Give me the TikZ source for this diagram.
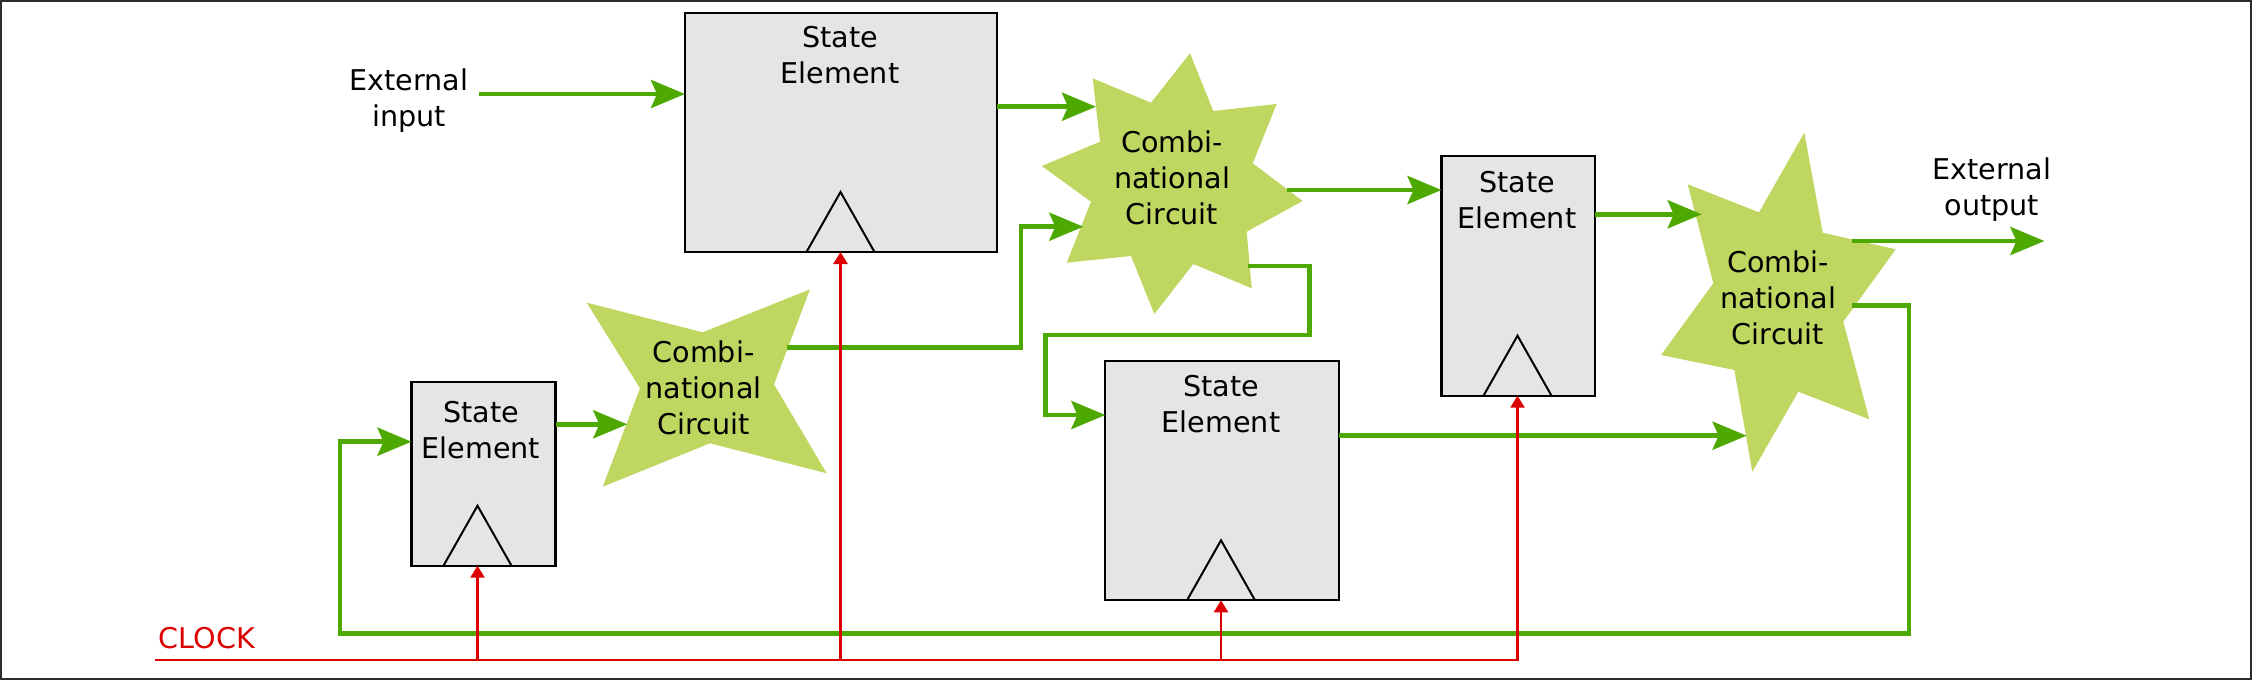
\documentclass[tikz,border=0pt]{standalone}
\usepackage{fontspec}
\setmainfont{DejaVu Sans}
\usetikzlibrary{arrows.meta,calc}
\definecolor{wire}{RGB}{77,168,0}
\definecolor{starfill}{RGB}{191,214,97}
\definecolor{boxfill}{RGB}{229,229,229}
\definecolor{clk}{RGB}{220,0,0}
\definecolor{framecol}{RGB}{45,45,45}
\tikzset{
 sebox/.style={draw=black, fill=boxfill, line width=1.1pt, inner sep=0pt, outer sep=0pt},
 clktri/.style={draw=black, line width=1pt, line join=miter},
 lbl/.style={font=\fontsize{14.3}{18}\selectfont, align=center, inner sep=0pt},
 wirearrow/.style={draw=wire, line width=2.3pt, -{Stealth[length=17pt,width=14pt,inset=3pt]}},
 clkarrow/.style={draw=clk, line width=1.2pt, -{Triangle[length=6pt,width=7pt]}},
 combstar/.style={fill=starfill, draw=none},
}
\begin{document}
\begin{tikzpicture}[x=0.5pt,y=-0.5pt]
\useasboundingbox (0,0) rectangle (2252,680);
\draw[framecol, line width=1pt] (1,1) rectangle (2251,679);

% State elements
\node[sebox, minimum width=156pt, minimum height=119.5pt] (seA) at (841,132.5) {};
\node[sebox, minimum width=72pt, minimum height=91.7pt] (seB) at (483.5,474) {};
\node[sebox, minimum width=76.75pt, minimum height=119.85pt] (seC) at (1518.25,275.85) {};
\node[sebox, minimum width=117pt, minimum height=119.5pt] (seD) at (1222.35,480.8) {};

% clock coordinates
\coordinate (clkstart) at (155,660);
\coordinate (cB) at (477.5,660);
\coordinate (cA) at (840.5,660);
\coordinate (cD) at (1221,660);
\coordinate (cC) at (1517.5,660);

% clock triangles
\foreach \c/\b in {cA/seA,cB/seB,cC/seC,cD/seD}{
  \draw[clktri] ($(\c |- \b.south)+(-34,0)$) -- ($(\c |- \b.south)+(0,-60)$) -- ($(\c |- \b.south)+(34,0)$);
}

% box labels
\node[lbl] (tA) at (840,55.5) {State\\Element};
\node[lbl] (tB) at (481,430) {State\\Element};
\node[lbl] (tC) at (1517,200) {State\\Element};
\node[lbl] (tD) at (1221,404.3) {State\\Element};

% combinational stars
\path[combstar] (1190,53.3) -- (1213.3,111) -- (1276.7,104) -- (1252.7,163.3) -- (1302.7,201) -- (1246.7,231.7) -- (1251.7,288.3) -- (1193.3,264) -- (1154.3,314) -- (1131,256) -- (1066.7,262.7) -- (1091,201.7) -- (1041.7,166) -- (1100,141.7) -- (1092.7,78.3) -- (1151,102.7) -- cycle;
\path[combstar] (586.7,302.7) -- (702.7,332.3) -- (810,289.3) -- (774,384.3) -- (826.7,473.3) -- (710,443.3) -- (602.7,486.7) -- (640,388.3) -- cycle;
\path[combstar] (1804.3,132.7) -- (1822.7,232.7) -- (1895.7,249.3) -- (1843.3,321.7) -- (1869.3,419.3) -- (1798.3,391.7) -- (1752.3,471.7) -- (1734.3,370) -- (1661,355) -- (1713.3,283.3) -- (1687.7,184.3) -- (1759,212.3) -- cycle;
\node[lbl] (cb1) at (1172,178) {Combi-\\national\\Circuit};
\node[lbl] (cb2) at (703.5,388) {Combi-\\national\\Circuit};
\node[lbl] (cb3) at (1778,297.5) {Combi-\\national\\Circuit};

% wire endpoints
\coordinate (extin) at (479,94);
\coordinate (s1inA) at (1096,106.7);
\coordinate (s1inB) at (1083.3,226.7);
\coordinate (s1outA) at (1287,190);
\coordinate (s1outB) at (1248,266);
\coordinate (yD) at (0,415);
\coordinate (s2in) at (627.3,424.3);
\coordinate (s2out) at (787,347.7);
\coordinate (s3inA) at (1701.7,214.3);
\coordinate (s3inB) at (1746.6,435.7);
\coordinate (s3outA) at (1852,241);
\coordinate (extout) at (2044.4,241);
\coordinate (s3outB) at (1852,305.5);
\coordinate (yB) at (0,441.7);

% green wires
\draw[wirearrow] (extin) -- (extin -| seA.west);
\draw[wirearrow] (seA.east |- s1inA) -- (s1inA);
\draw[wirearrow] (s2out) -- (1021,347.7) -- (1021,226.7) -- (s1inB);
\draw[wirearrow] (s1outA) -- (s1outA -| seC.west);
\draw[wirearrow] (s1outB) -- (1309.3,266) -- (1309.3,335) -- (1045.5,335) -- (1045.5,415) -- (seD.west |- yD);
\draw[wirearrow] (seB.east |- s2in) -- (s2in);
\draw[wirearrow] (seC.east |- s3inA) -- (s3inA);
\draw[wirearrow] (seD.east |- s3inB) -- (s3inB);
\draw[wirearrow] (s3outA) -- (extout);
\draw[wirearrow] (s3outB) -- (1909,305.5) -- (1909,633.3) -- (340,633.3) -- (340,441.7) -- (seB.west |- yB);

% clock wires
\draw[clkarrow] (clkstart) -- (cC) -- (cC |- seC.south);
\draw[clkarrow] (cB) -- (cB |- seB.south);
\draw[clkarrow] (cA) -- (cA |- seA.south);
\draw[clkarrow] (cD) -- (cD |- seD.south);

% labels
\node[lbl] (extinlbl) at (409,101) {External\\input};
\node[lbl] (extoutlbl) at (1991.7,190) {External\\output};
\node[lbl, text=clk, anchor=west] (clocklbl) at (158.5,638) {CLOCK};
\end{tikzpicture}
\end{document}
